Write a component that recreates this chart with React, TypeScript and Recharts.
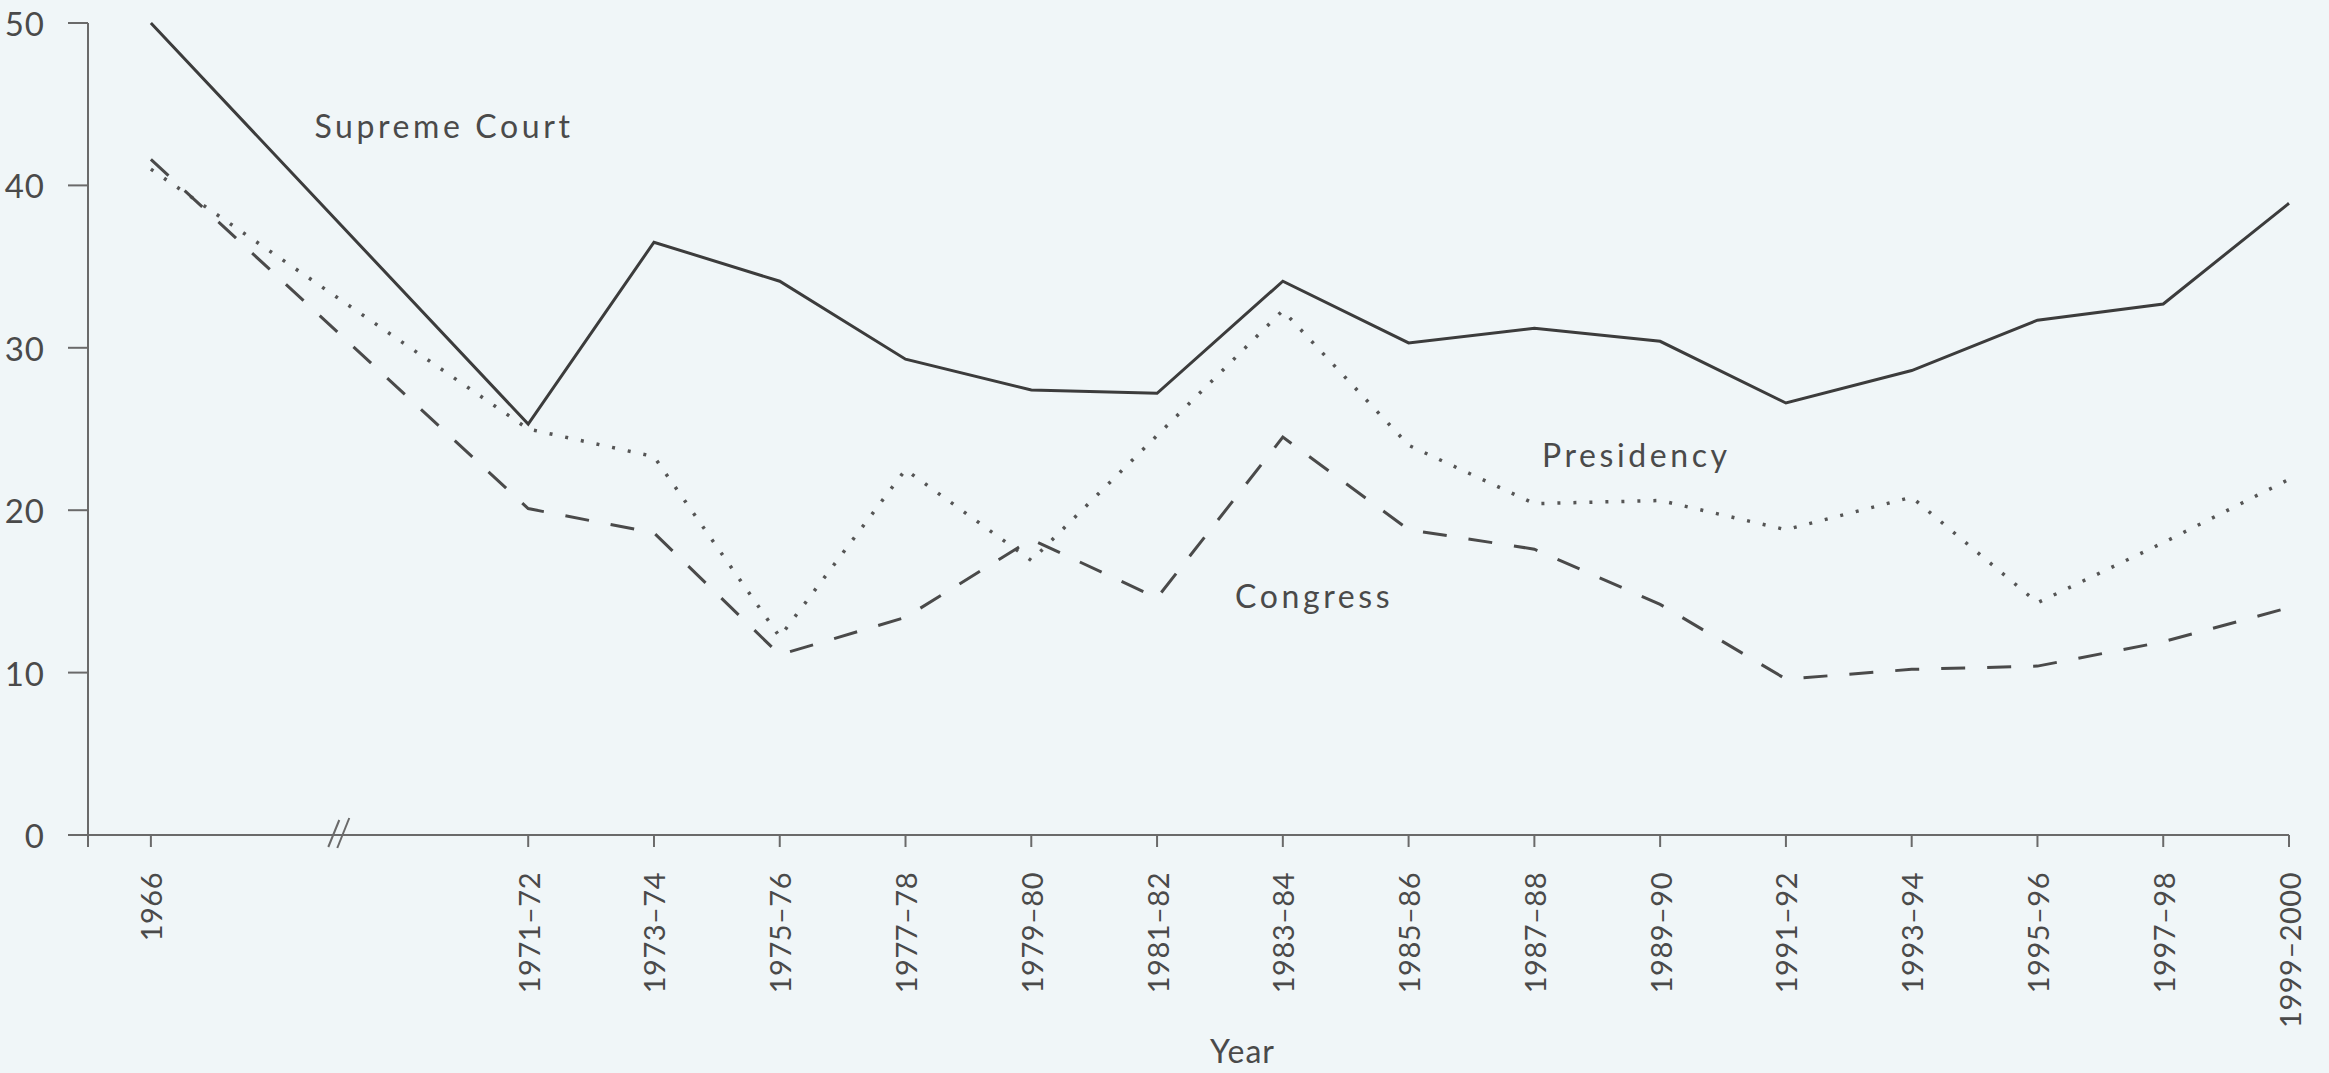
import React from 'react';
import { LineChart, Line, XAxis, YAxis, ReferenceDot } from 'recharts';

// Categories (x axis) and their positions on the axis (1966 is set apart by a break)
const categories = ['1966', '1971–72', '1973–74', '1975–76', '1977–78', '1979–80', '1981–82', '1983–84', '1985–86', '1987–88', '1989–90', '1991–92', '1993–94', '1995–96', '1997–98', '1999–2000'];
const positions = [0, 3, 4, 5, 6, 7, 8, 9, 10, 11, 12, 13, 14, 15, 16, 17];

// Series values
const supremeCourt = [50, 25.3, 36.5, 34.1, 29.3, 27.4, 27.2, 34.1, 30.3, 31.2, 30.4, 26.6, 28.6, 31.7, 32.7, 38.9];
const presidency = [41.0, 25.0, 23.3, 12.2, 22.5, 16.9, 24.6, 32.3, 24.0, 20.4, 20.6, 18.8, 20.8, 14.3, 18.0, 21.9];
const congress = [41.6, 20.1, 18.6, 11.1, 13.4, 18.2, 14.6, 24.5, 18.8, 17.6, 14.2, 9.6, 10.2, 10.4, 11.9, 14.0];

// Y ticks
const yTicks = [0, 10, 20, 30, 40, 50];

// Annotation labels (text, x position, y value)
const seriesLabels = [
  { text: 'Supreme Court', x: 1.3, y: 42.9 },
  { text: 'Presidency', x: 11.06, y: 22.66 },
  { text: 'Congress', x: 8.62, y: 13.98 },
];
const axisBreakAt = 1.49;

const data = categories.map((c, i) => ({
  pos: positions[i],
  label: c,
  supreme: supremeCourt[i],
  presidency: presidency[i],
  congress: congress[i],
}));

const FONT = 'Lato, "Open Sans", sans-serif';
const TEXT = '#4a4a4a';
const AXIS = '#6a6a6a';
const X_DOMAIN: [number, number] = [-0.5, 17];
const xTicks = [X_DOMAIN[0], ...positions];

const labelFor = (v: number) => {
  const i = positions.indexOf(v);
  return i >= 0 ? categories[i] : '';
};

const XTick = (props: any) => {
  const { x, y, payload } = props;
  const label = labelFor(payload.value);
  if (!label) return null;
  return (
    <text
      x={x}
      y={y}
      transform={`rotate(-90 ${x} ${y})`}
      textAnchor="end"
      dominantBaseline="central"
      fontFamily={FONT}
      fontSize={29}
      letterSpacing={0.5}
      fill={TEXT}
    >
      {label}
    </text>
  );
};

const YTick = (props: any) => {
  const { x, y, payload } = props;
  return (
    <text
      x={x}
      y={y}
      textAnchor="end"
      dominantBaseline="central"
      fontFamily={FONT}
      fontSize={33}
      letterSpacing={1}
      fill={TEXT}
    >
      {payload.value}
    </text>
  );
};

export default function App() {
  return (
    <div style={{ position: 'absolute', left: 0, top: 0, width: 2329, height: 1073, background: '#f0f6f8' }}>
      <LineChart
        width={2329}
        height={1073}
        data={data}
        margin={{ top: 23, right: 40, bottom: 8, left: 0 }}
      >
        <XAxis
          type="number"
          dataKey="pos"
          domain={X_DOMAIN}
          ticks={xTicks}
          interval={0}
          height={230}
          tickSize={12}
          tickMargin={25}
          tick={<XTick />}
          stroke={AXIS}
          strokeWidth={2}
          axisLine={{ stroke: AXIS, strokeWidth: 2 }}
          tickLine={{ stroke: AXIS, strokeWidth: 2 }}
          label={{ value: 'Year', position: 'insideBottom', offset: 2, dx: 54, fontFamily: FONT, fontSize: 32, fill: TEXT, letterSpacing: 1 }}
        />
        <YAxis
          type="number"
          domain={[0, 50]}
          ticks={yTicks}
          interval={0}
          width={88}
          tickSize={20}
          tickMargin={23}
          tick={<YTick />}
          axisLine={{ stroke: AXIS, strokeWidth: 2 }}
          tickLine={{ stroke: AXIS, strokeWidth: 2 }}
        />
        <Line
          type="linear"
          dataKey="supreme"
          stroke="#3c3c3c"
          strokeWidth={3}
          dot={false}
          isAnimationActive={false}
        />
        <Line
          type="linear"
          dataKey="presidency"
          stroke="#555555"
          strokeWidth={3.5}
          strokeDasharray="3 13"
          dot={false}
          isAnimationActive={false}
        />
        <Line
          type="linear"
          dataKey="congress"
          stroke="#4a4a4a"
          strokeWidth={3}
          strokeDasharray="24 22"
          dot={false}
          isAnimationActive={false}
        />
        {seriesLabels.map((l) => (
          <ReferenceDot
            key={l.text}
            x={l.x}
            y={l.y}
            ifOverflow="visible"
            shape={(p: any) => (
              <text
                x={p.cx}
                y={p.cy}
                fontFamily={FONT}
                fontSize={32}
                letterSpacing={3.6}
                fill={TEXT}
              >
                {l.text}
              </text>
            )}
          />
        ))}
        <ReferenceDot
          x={axisBreakAt}
          y={0}
          ifOverflow="visible"
          shape={(p: any) => (
            <g stroke={AXIS} strokeWidth={2}>
              <line x1={p.cx - 10} y1={p.cy + 12} x2={p.cx + 1} y2={p.cy - 15} />
              <line x1={p.cx - 1} y1={p.cy + 13} x2={p.cx + 11} y2={p.cy - 17} />
            </g>
          )}
        />
      </LineChart>
    </div>
  );
}
